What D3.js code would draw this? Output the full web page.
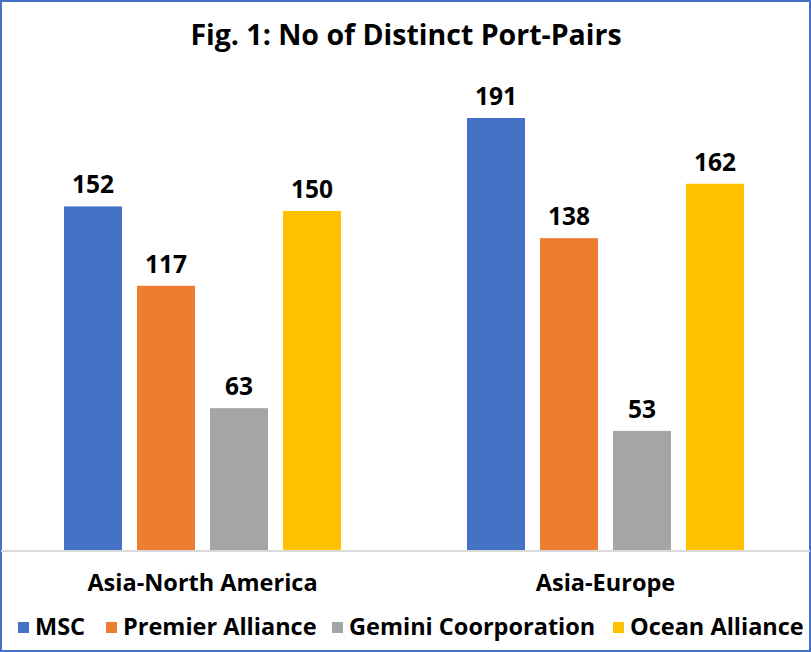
<!DOCTYPE html>
<html><head><meta charset="utf-8">
<script src="https://cdn.jsdelivr.net/npm/d3@7"></script>
<style>
html,body{margin:0;padding:0;background:#fff;}
svg{display:block;}
text{font-family:"Open Sans","Noto Sans",sans-serif;font-weight:700;fill:#000;}
</style></head>
<body>
<svg id="chart" width="811" height="652"></svg>
<script>
const categories = ["Asia-North America", "Asia-Europe"];
const seriesNames = ["MSC", "Premier Alliance", "Gemini Coorporation", "Ocean Alliance"];
const msc = [152, 191];
const premier = [117, 138];
const gemini = [63, 53];
const ocean = [150, 162];
const colors = ["#4472C4", "#ED7D31", "#A5A5A5", "#FFC000"];
const title = "Fig. 1: No of Distinct Port-Pairs";

const seriesValues = [msc, premier, gemini, ocean];
const data = categories.map((c, i) => ({cat: c, vals: seriesNames.map((s, j) => ({s, v: seriesValues[j][i], color: colors[j]}))}));

const svg = d3.select("#chart");
const W = 811, H = 652;

svg.append("rect").attr("x", 1).attr("y", 1).attr("width", W - 2).attr("height", H - 2)
  .attr("fill", "#fff").attr("stroke", "#4472C4").attr("stroke-width", 2);

svg.append("text").attr("x", 406).attr("y", 45).attr("text-anchor", "middle")
  .style("font-size", "28.5px").text(title);

const x0 = d3.scaleBand().domain(categories).range([1, 807]);
const x1 = d3.scaleBand().domain(seriesNames).range([63, 340]).paddingInner(15 / 73);
const y = d3.scaleLinear().domain([0, 200]).range([551, 97.6]);

const g = svg.selectAll("g.cat").data(data).enter().append("g")
  .attr("class", "cat").attr("transform", d => `translate(${x0(d.cat)},0)`);

g.selectAll("rect").data(d => d.vals).enter().append("rect")
  .attr("x", d => x1(d.s)).attr("width", x1.bandwidth())
  .attr("y", d => y(d.v)).attr("height", d => y(0) - y(d.v))
  .attr("fill", d => d.color);

g.selectAll("text.val").data(d => d.vals).enter().append("text")
  .attr("class", "val").attr("x", d => x1(d.s) + x1.bandwidth() / 2)
  .attr("y", d => y(d.v) - 13).attr("text-anchor", "middle")
  .style("font-size", "24.5px").text(d => d.v);

// baseline axis
const xAxis = d3.axisBottom(x0).tickSize(0).tickPadding(0);
const ax = svg.append("g").attr("transform", "translate(0,551)").call(xAxis);
ax.select(".domain").attr("stroke", "#D9D9D9").attr("stroke-width", 2).attr("d", "M1,0H810");
ax.selectAll(".tick text").attr("y", 40).attr("dy", "0")
  .style("font-size", "23.5px")
  .style("font-family", "'Open Sans','Noto Sans',sans-serif").style("font-weight", 700).attr("fill", "#000");

// legend
const legendX = [18, 106, 332, 613];
const lg = svg.selectAll("g.leg").data(seriesNames).enter().append("g")
  .attr("class", "leg").attr("transform", (d, i) => `translate(${legendX[i]},635)`);
lg.append("rect").attr("x", 0).attr("y", -13).attr("width", 11).attr("height", 11)
  .attr("fill", (d, i) => colors[i]);
lg.append("text").attr("x", 17).attr("y", 0)
  .style("font-size", "23.5px").text(d => d);
</script>
</body></html>
